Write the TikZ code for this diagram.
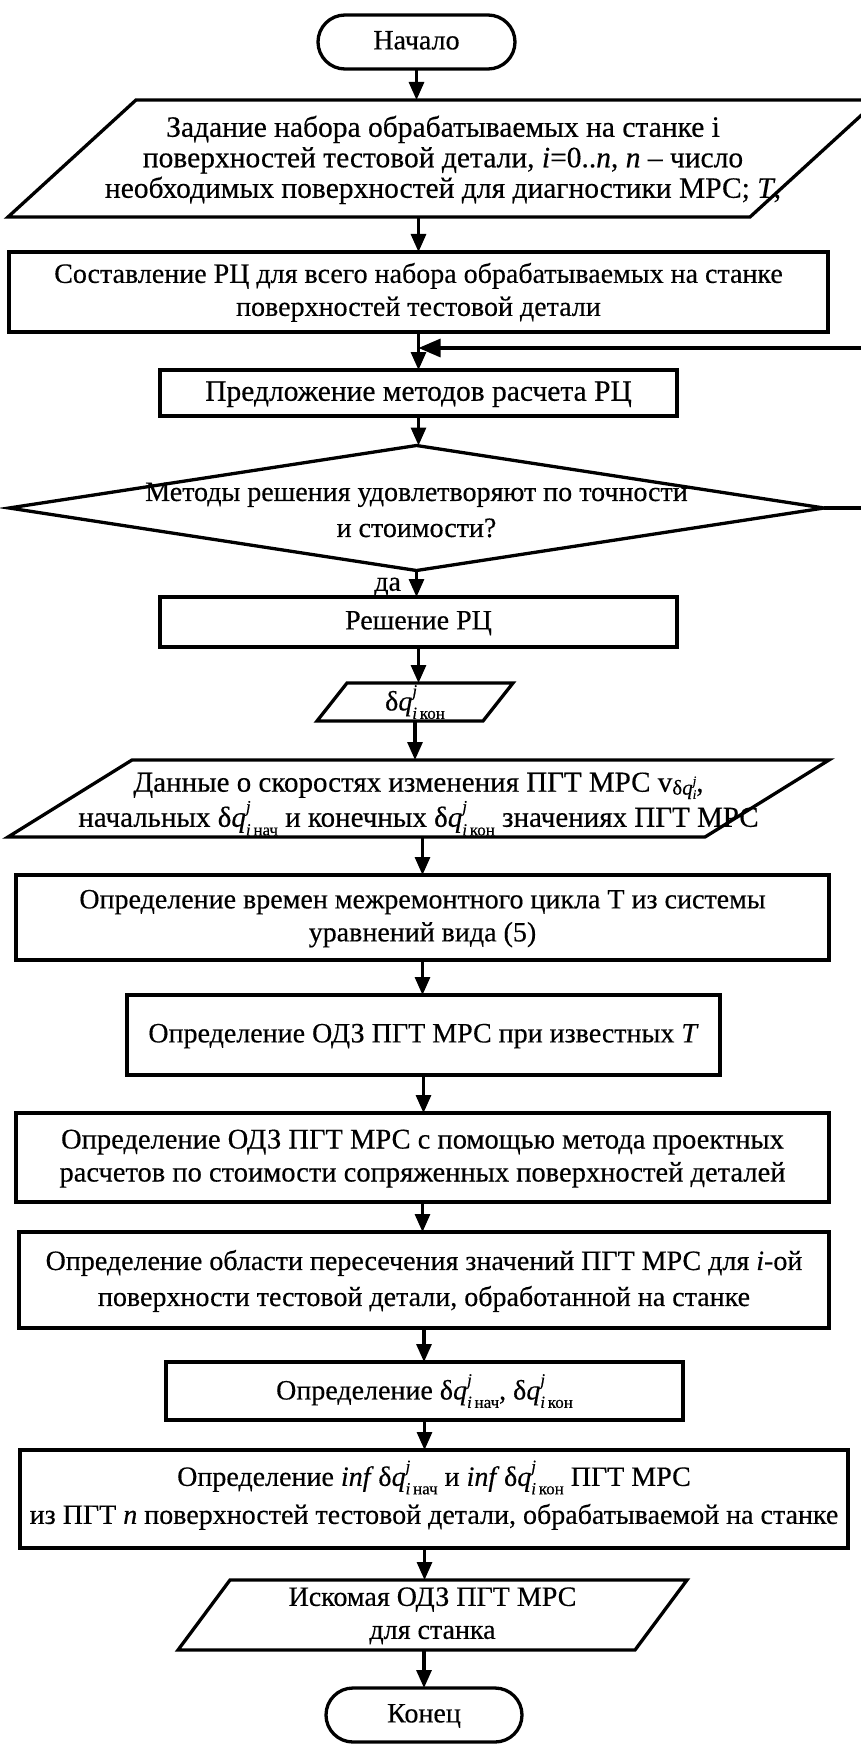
\documentclass[tikz,border=0pt]{standalone}
\usepackage{fontspec}
\setmainfont{Liberation Serif}[FakeBold=0.4]
\usetikzlibrary{arrows.meta,shapes.geometric,shapes.misc,calc}
\newcommand{\tx}[1]{\makebox[0pt]{\raisebox{-0.25em}[0pt][0pt]{\begin{tabular}{@{}c@{}}#1\end{tabular}}}}
\newcommand{\ssz}{\fontsize{17}{17}\selectfont}
\newcommand{\tsz}{\fontsize{13}{13}\selectfont}
\newcommand{\dq}[1]{δ\textit{q}\makebox[0pt][l]{\raisebox{0.5em}{\ssz\textit{j}}}\raisebox{-0.3em}{\ssz\textit{i}\,#1}}
\newcommand{\vdq}{v\raisebox{-0.1em}{\fontsize{21}{21}\selectfont δ\textit{q}\makebox[0pt][l]{\raisebox{0.45em}{\tsz\textit{j}}}\raisebox{-0.2em}{\tsz\textit{i}}}}
\newcommand{\paraline}[2]{\draw[shp] ([xshift=-#2]#1.south west) -- ([xshift=#2]#1.north west) -- ([xshift=#2]#1.north east) -- ([xshift=-#2]#1.south east) -- cycle;}
\tikzset{
  shp/.style={line width=3.3pt, line join=miter},
  box/.style={shp, draw, rectangle, inner sep=0pt, outer sep=0pt},
  term/.style={shp, draw, rounded rectangle, inner sep=0pt, outer sep=0pt},
  dec/.style={shp, draw, diamond, inner sep=0pt, outer sep=0pt},
  iotext/.style={rectangle, inner sep=0pt, outer sep=0pt},
  arr/.style={line width=3.1pt, -{Triangle[length=18pt,width=15pt]}},
  arrbig/.style={line width=3.1pt, -{Triangle[length=22pt,width=18pt]}},
}
\begin{document}
\begin{tikzpicture}[x=1pt, y=-1pt, font=\fontsize{28}{33}\selectfont]
\useasboundingbox (0,0) rectangle (861,1744);
\fill[white] (0,0) rectangle (861,1744);
\clip (0,0) rectangle (861,1744);

\node[term, minimum width=197pt, minimum height=54pt] (start) at (416.5,42) {\tx{Начало}};

\node[iotext, minimum width=742pt, minimum height=117pt] (p1) at (443,158.5)
  {\raisebox{-3pt}{\fontsize{29.5}{30.5}\selectfont\tx{Задание набора обрабатываемых на станке i\\ поверхностей тестовой детали, \textit{i}=0..\textit{n}, \textit{n} – число\\ необходимых поверхностей для диагностики МРС; \textit{T},}}};
\paraline{p1}{64pt}

\node[box, minimum width=819pt, minimum height=80pt] (b2) at (418.5,292)
  {\tx{Составление РЦ для всего набора обрабатываемых на станке\\ поверхностей тестовой детали}};

\node[box, minimum width=517pt, minimum height=46pt] (b3) at (418.5,393)
  {\fontsize{29.5}{33}\selectfont\tx{Предложение методов расчета РЦ}};

\node[dec, minimum width=815pt, minimum height=125pt] (dia) at (416.5,508)
  {\raisebox{-6pt}{\fontsize{28}{36}\selectfont\tx{Методы решения удовлетворяют по точности\\ и стоимости?}}};

\node[box, minimum width=517pt, minimum height=50pt] (b4) at (418.5,622)
  {\tx{Решение РЦ}};

\node[iotext, minimum width=166pt, minimum height=38pt] (p2) at (415,702)
  {\tx{\dq{кон}}};
\paraline{p2}{15pt}

\node[iotext, minimum width=697pt, minimum height=77pt] (p3) at (418.5,798.5)
  {\raisebox{-7pt}{\fontsize{29}{31}\selectfont\tx{Данные о скоростях изменения ПГТ МРС \vdq,\\ начальных \dq{нач} и конечных \dq{кон} значениях ПГТ МРС}}};
\paraline{p3}{62pt}

\node[box, minimum width=813pt, minimum height=85pt] (b5) at (422.5,917.5)
  {\tx{Определение времен межремонтного цикла Т из системы\\ уравнений вида (5)}};

\node[box, minimum width=593pt, minimum height=80pt] (b6) at (423.5,1035)
  {\tx{Определение ОДЗ ПГТ МРС при известных \textit{T}}};

\node[box, minimum width=813pt, minimum height=89pt] (b7) at (422.5,1157.5)
  {\fontsize{28.5}{33}\selectfont\tx{Определение ОДЗ ПГТ МРС с помощью метода проектных\\ расчетов по стоимости сопряженных поверхностей деталей}};

\node[box, minimum width=810pt, minimum height=96pt] (b8) at (424,1280)
  {\fontsize{28}{36}\selectfont\tx{Определение области пересечения значений ПГТ МРС для \textit{i}-ой\\ поверхности тестовой детали, обработанной на станке}};

\node[box, minimum width=517pt, minimum height=58pt] (b9) at (424.5,1391)
  {\tx{Определение \dq{нач}, \dq{кон}}};

\node[box, minimum width=828pt, minimum height=98pt] (b10) at (434,1499)
  {\raisebox{5pt}{\fontsize{28}{38}\selectfont\tx{Определение \textit{inf}\,\dq{нач} и \textit{inf}\,\dq{кон} ПГТ МРС\\ из ПГТ \textit{n} поверхностей тестовой детали, обрабатываемой на станке}}};

\node[iotext, minimum width=457pt, minimum height=70pt] (p4) at (432.5,1615)
  {\tx{Искомая ОДЗ ПГТ МРС\\ для станка}};
\paraline{p4}{26pt}

\node[term, minimum width=196pt, minimum height=54pt] (end) at (424,1715) {\tx{Конец}};

% connectors
\draw[arr] (start.south) -- (start.south |- p1.north);
\draw[arr] (b2.north |- p1.south) -- (b2.north);
\draw[arr] (b2.south) -- (b2.south |- b3.north);
\draw[arr] (b3.south) -- (b3.south |- dia.north);
\draw[arr] (dia.south) -- node[pos=0.62, left=14pt, inner sep=0pt] {да} (dia.south |- b4.north);
\draw[arr] (b4.south) -- (b4.south |- p2.north);
\draw[arr] (p2.south) -- (p2.south |- p3.north);
\draw[arr] (b5.north |- p3.south) -- (b5.north);
\draw[arr] (b5.south) -- (b5.south |- b6.north);
\draw[arr] (b6.south) -- (b6.south |- b7.north);
\draw[arr] (b7.south) -- (b7.south |- b8.north);
\draw[arr] (b8.south) -- (b8.south |- b9.north);
\draw[arr] (b9.south) -- (b9.south |- b10.north);
\draw[arr] (b9.south |- b10.south) -- (b9.south |- p4.north);
\draw[arr] (end.north |- p4.south) -- (end.north);

\coordinate (fb) at (880,348);
\draw[arrbig] (dia.east) -- (dia.east -| fb) -- (fb) -- (fb -| b3.north);
\end{tikzpicture}
\end{document}
